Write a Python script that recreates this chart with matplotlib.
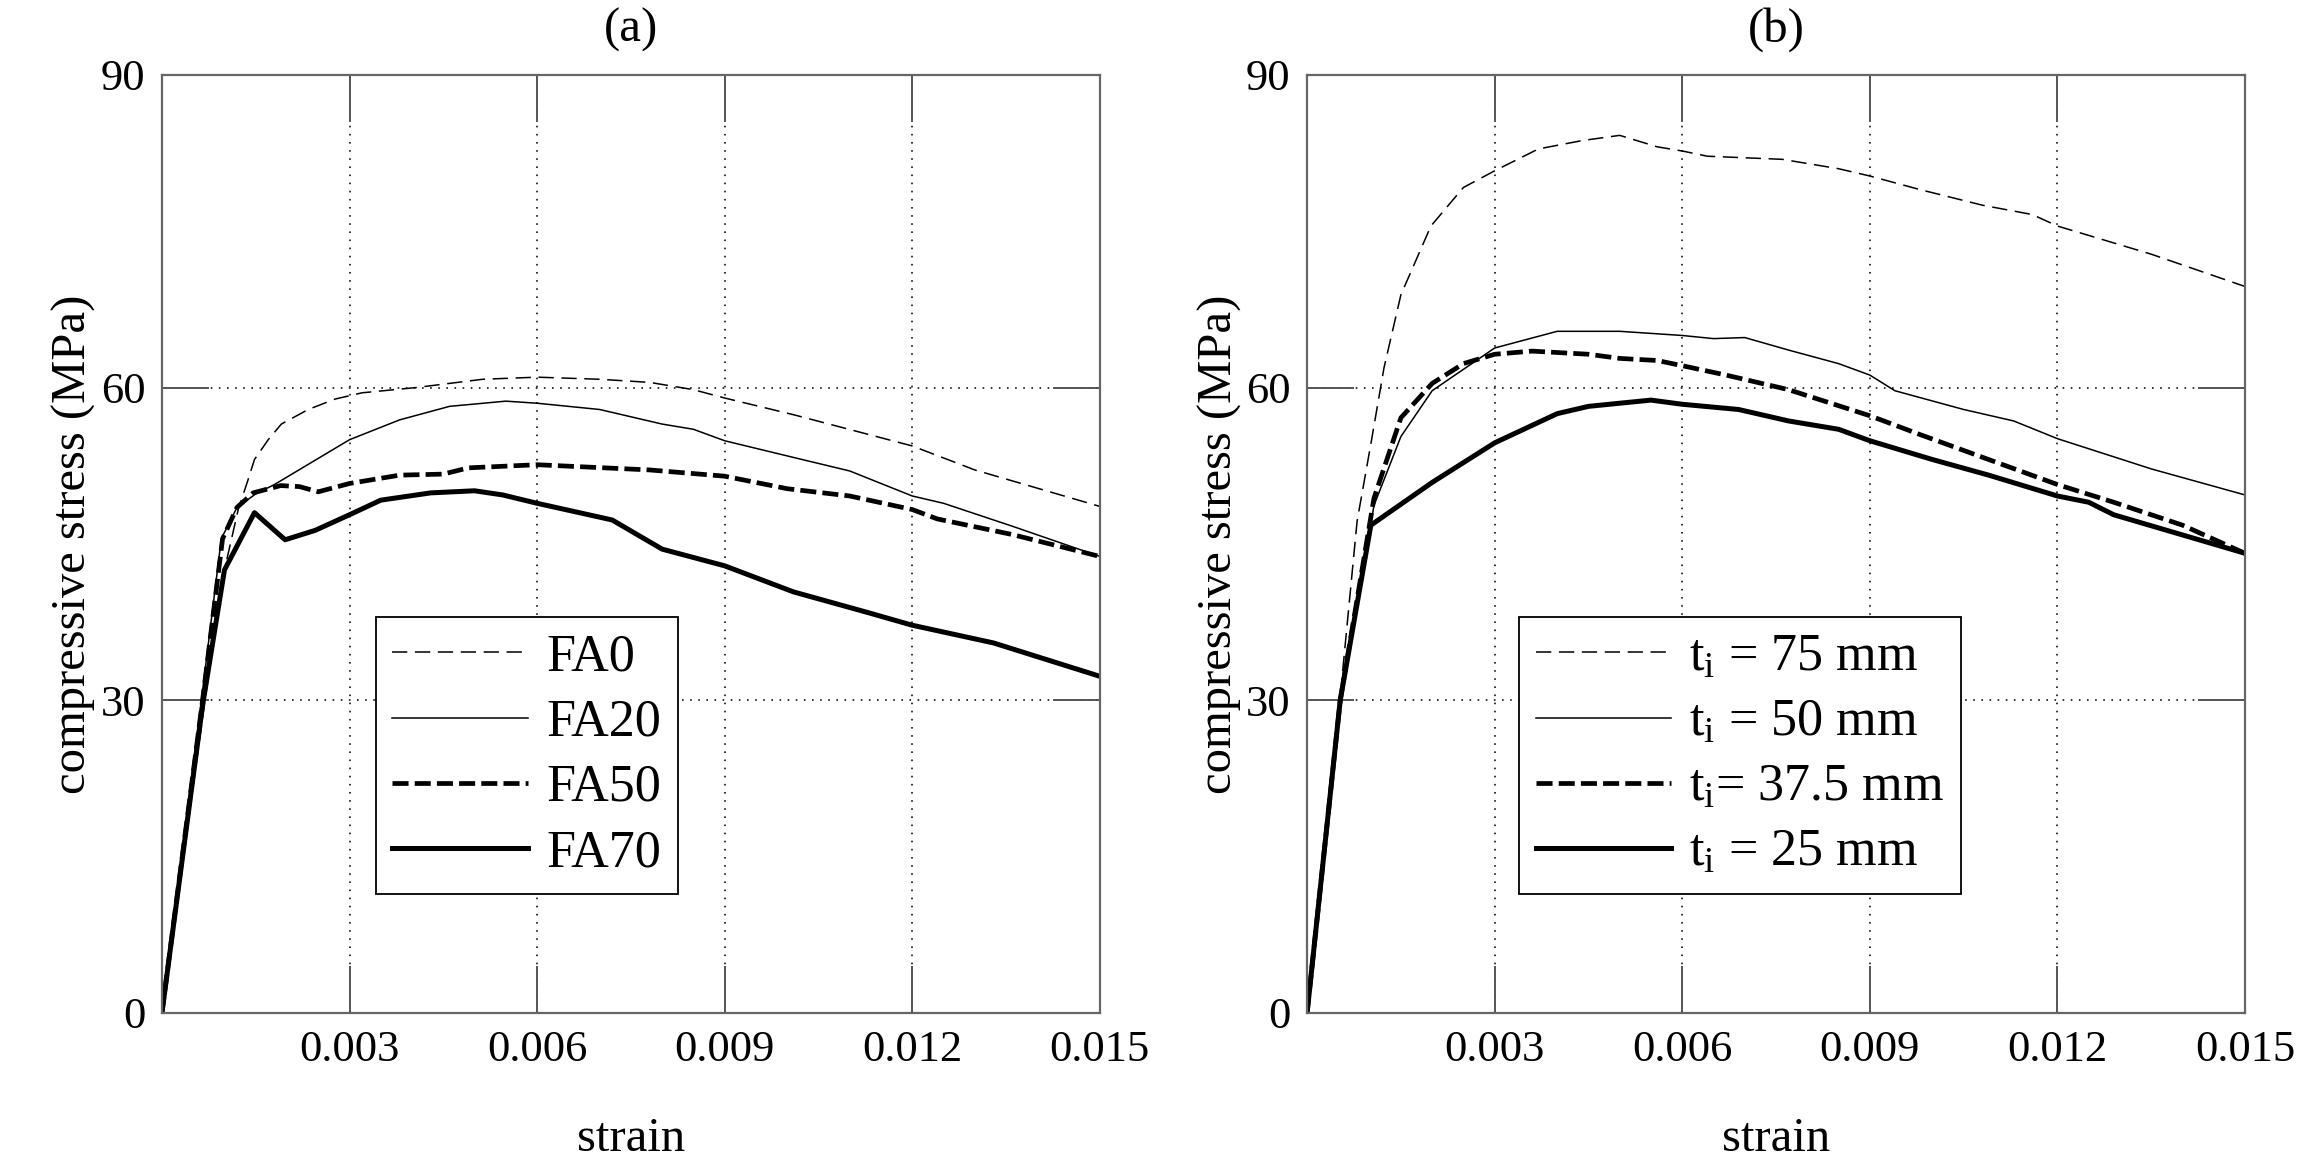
import matplotlib
matplotlib.use("Agg")
import matplotlib.pyplot as plt

plt.rcParams['font.family'] = ['Liberation Serif', 'DejaVu Serif']
plt.rcParams['mathtext.fontset'] = 'custom'
plt.rcParams['mathtext.rm'] = 'Liberation Serif'
plt.rcParams['mathtext.it'] = 'Liberation Serif:italic'

# ---------------- data: panel (a) ----------------
fa0_strain = [0, 0.0007, 0.0010, 0.00122, 0.00138, 0.00148, 0.0017, 0.00191, 0.00234, 0.00277, 0.0032,
              0.00406, 0.00513, 0.006, 0.0070, 0.0078, 0.0085, 0.009, 0.0101, 0.012, 0.013, 0.015]
fa0_stress = [0, 30.5, 42.5, 48.3, 51.2, 53.1, 55.0, 56.5, 57.9, 58.9, 59.5,
              60.0, 60.8, 61.0, 60.8, 60.5, 59.8, 59.0, 57.4, 54.4, 52.1, 48.6]

fa20_strain = [0, 0.0006, 0.00095, 0.0012, 0.0015, 0.0018, 0.003, 0.0038, 0.0046, 0.0055, 0.006,
               0.007, 0.008, 0.0085, 0.009, 0.0101, 0.011, 0.012, 0.0125, 0.0136, 0.015]
fa20_stress = [0, 28.5, 45.5, 48.5, 49.8, 50.7, 55.0, 56.9, 58.2, 58.7, 58.5,
               57.9, 56.5, 56.0, 54.9, 53.3, 52.0, 49.6, 48.9, 46.7, 43.8]

fa50_strain = [0, 0.00065, 0.00097, 0.0012, 0.00146, 0.0019, 0.0022, 0.0025, 0.003, 0.0038, 0.0045,
               0.0049, 0.006, 0.0078, 0.009, 0.010, 0.011, 0.012, 0.0124, 0.0136, 0.015]
fa50_stress = [0, 30.0, 45.5, 48.5, 49.9, 50.6, 50.5, 50.0, 50.8, 51.6, 51.7,
               52.3, 52.6, 52.1, 51.5, 50.3, 49.6, 48.3, 47.4, 45.9, 43.8]

fa70_strain = [0, 0.00065, 0.001, 0.00148, 0.00197, 0.00245, 0.003, 0.0035, 0.0043, 0.005, 0.00545,
               0.006, 0.0072, 0.008, 0.009, 0.0101, 0.0113, 0.012, 0.0133, 0.015]
fa70_stress = [0, 29.5, 42.5, 48.0, 45.4, 46.3, 47.8, 49.2, 49.9, 50.1, 49.7,
               48.9, 47.3, 44.5, 42.9, 40.4, 38.4, 37.2, 35.5, 32.3]

# ---------------- data: panel (b) ----------------
t75_strain = [0, 0.00054, 0.0008, 0.00102, 0.00123, 0.0015, 0.00198, 0.0025, 0.003, 0.0037, 0.0044,
              0.005, 0.0056, 0.006, 0.0064, 0.0076, 0.0085, 0.009, 0.0098, 0.0108, 0.0116, 0.012,
              0.0135, 0.015]
t75_stress = [0, 31.0, 47.2, 54.6, 61.9, 68.9, 75.5, 79.2, 80.8, 82.9, 83.7,
              84.2, 83.1, 82.7, 82.2, 81.9, 81.0, 80.3, 79.0, 77.5, 76.6, 75.5,
              72.8, 69.7]

t50_strain = [0, 0.00053, 0.00107, 0.0015, 0.002, 0.003, 0.004, 0.005, 0.006, 0.0065, 0.007,
              0.0077, 0.0085, 0.009, 0.0094, 0.0105, 0.0113, 0.012, 0.0135, 0.015]
t50_stress = [0, 30.0, 48.7, 55.3, 59.7, 63.8, 65.4, 65.4, 65.0, 64.7, 64.8,
              63.6, 62.3, 61.2, 59.7, 57.9, 56.8, 55.1, 52.2, 49.7]

t375_strain = [0, 0.00053, 0.00107, 0.0015, 0.002, 0.0025, 0.003, 0.0036, 0.0045, 0.005, 0.0056,
               0.006, 0.0067, 0.0077, 0.009, 0.0098, 0.0109, 0.012, 0.0129, 0.014, 0.015]
t375_stress = [0, 30.0, 49.4, 57.1, 60.4, 62.3, 63.2, 63.5, 63.2, 62.8, 62.6,
               62.1, 61.2, 59.8, 57.3, 55.5, 53.1, 50.7, 49.0, 46.8, 44.1]

t25_strain = [0, 0.00053, 0.00102, 0.002, 0.003, 0.004, 0.0045, 0.0055, 0.006, 0.0069, 0.0077,
              0.0085, 0.009, 0.010, 0.0109, 0.012, 0.0125, 0.0129, 0.015]
t25_stress = [0, 30.0, 46.8, 50.9, 54.7, 57.5, 58.2, 58.8, 58.4, 57.9, 56.8,
              56.0, 54.9, 53.1, 51.6, 49.6, 49.0, 47.8, 44.1]

labels_a = ['FA0', 'FA20', 'FA50', 'FA70']
labels_b = [r't$_{\mathrm{i}}$ = 75 mm', r't$_{\mathrm{i}}$ = 50 mm',
            r't$_{\mathrm{i}}$= 37.5 mm', r't$_{\mathrm{i}}$ = 25 mm']
xticks = [0.003, 0.006, 0.009, 0.012, 0.015]
xticklabels = ['0.003', '0.006', '0.009', '0.012', '0.015']
yticks = [0, 30, 60, 90]
yticklabels = ['0', '30', '60', '90']

FS_TICK = 32
FS_LABEL = 35
FS_LEG = 37.5
styles = [
    dict(color='black', lw=1.1, dashes=(10, 5)),
    dict(color='black', lw=1.1, linestyle='-'),
    dict(color='black', lw=3.4, dashes=(3.4, 1.3)),
    dict(color='black', lw=3.6, linestyle='-'),
]

fig = plt.figure(figsize=(23, 11.65), dpi=100)
axA = fig.add_axes([0.0704, 0.1305, 0.4078, 0.8052])
axB = fig.add_axes([0.5683, 0.1305, 0.4078, 0.8052])

panels = [
    (axA, '(a)', [(fa0_strain, fa0_stress), (fa20_strain, fa20_stress),
                  (fa50_strain, fa50_stress), (fa70_strain, fa70_stress)], labels_a, (0.228, 0.127)),
    (axB, '(b)', [(t75_strain, t75_stress), (t50_strain, t50_stress),
                  (t375_strain, t375_stress), (t25_strain, t25_stress)], labels_b, (0.226, 0.127)),
]

for ax, title, series, labels, anchor in panels:
    for (xs, ys), st, lab in zip(series, styles, labels):
        ax.plot(xs, ys, label=lab, solid_joinstyle='round', dash_capstyle='butt', **st)
    ax.set_xlim(0, 0.015)
    ax.set_ylim(0, 90)
    ax.set_xticks(xticks)
    ax.set_xticklabels(xticklabels)
    ax.set_yticks(yticks)
    ax.set_yticklabels(yticklabels)
    ax.grid(True, color='#222222', linestyle=(0, (0.9, 3.6)), linewidth=1.3)
    ax.tick_params(direction='in', length=34, width=1.4, color='#555555',
                   top=True, right=True, labelsize=FS_TICK, pad=12)
    for sp in ax.spines.values():
        sp.set_color('#666666')
        sp.set_linewidth(1.6)
    ax.set_xlabel('strain', fontsize=FS_LABEL, labelpad=34)
    ax.set_ylabel('compressive stress (MPa)', fontsize=FS_LABEL, labelpad=3)
    ax.set_title(title, fontsize=FS_LABEL, pad=24)
    leg = ax.legend(loc='lower left', bbox_to_anchor=anchor, fontsize=FS_LEG,
                    handlelength=2.6, handletextpad=0.35, labelspacing=0.33,
                    borderpad=0.32, borderaxespad=0, fancybox=False, framealpha=1)
    leg.get_frame().set_edgecolor('black')
    leg.get_frame().set_linewidth(1.3)

fig.savefig('out.png', dpi=100, facecolor='white')
